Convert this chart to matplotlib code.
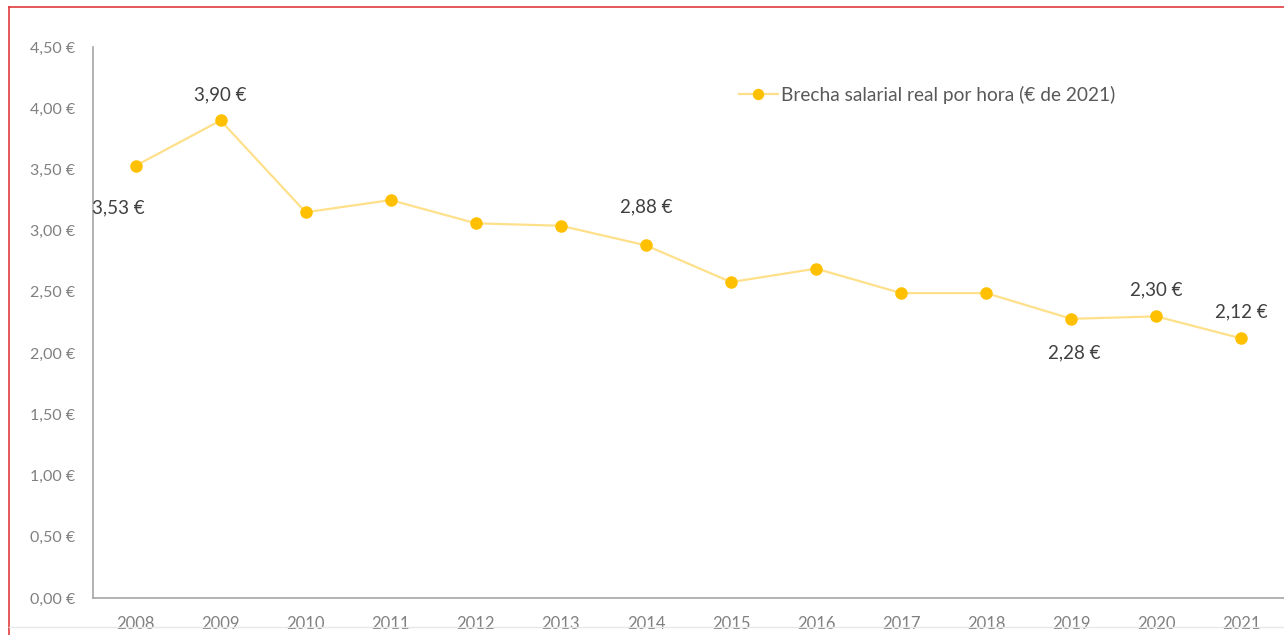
import matplotlib
matplotlib.use('Agg')
import matplotlib.pyplot as plt
from matplotlib.lines import Line2D
from matplotlib.ticker import FuncFormatter

# datos (lectura del gráfico)
years = ['2008', '2009', '2010', '2011', '2012', '2013', '2014',
         '2015', '2016', '2017', '2018', '2019', '2020', '2021']
brecha = [3.53, 3.90, 3.15, 3.25, 3.06, 3.04, 2.88,
          2.58, 2.69, 2.49, 2.49, 2.28, 2.30, 2.12]
# etiquetas visibles: indice -> desplazamiento en pixeles
label_offsets = {0: (-17, -42), 1: (0, 26), 6: (0, 38),
                 11: (3, -34), 12: (0, 27), 13: (0, 27)}
serie_name = 'Brecha salarial real por hora (€ de 2021)'

plt.rcParams['font.family'] = ['Lato', 'DejaVu Sans']

fig = plt.figure(figsize=(12.84, 6.35), dpi=100)
ax = fig.add_axes([93/1284, 1 - 598/635, 1 - 93/1284, (598 - 47)/635])

x = list(range(len(years)))
ax.plot(x, brecha, color='#FFE08A', lw=1.6, marker='o', markersize=8,
        markerfacecolor='#FFC000', markeredgecolor='#FFC000',
        label=serie_name, zorder=3)

def euro(v, pos):
    return ('%.2f €' % v).replace('.', ',')

for i, (dx, dy) in label_offsets.items():
    ax.annotate(euro(brecha[i], 0), (x[i], brecha[i]), xytext=(dx, dy),
                textcoords='offset pixels', ha='center', va='center',
                fontsize=13.5, color='#404040')

ax.set_xlim(-0.5, len(years) - 0.5)
ax.set_ylim(0, 4.5)
ax.set_yticks([i * 0.5 for i in range(10)])
ax.yaxis.set_major_formatter(FuncFormatter(euro))
ax.set_xticks(x)
ax.set_xticklabels(years)
ax.tick_params(axis='both', length=0, colors='#808080')
ax.tick_params(axis='y', pad=13, labelsize=11.5)
ax.tick_params(axis='x', pad=13, labelsize=12)
for s in ['top', 'right']:
    ax.spines[s].set_visible(False)
for s in ['left', 'bottom']:
    ax.spines[s].set_color('#A6A6A6')
    ax.spines[s].set_linewidth(1.2)

ax.legend(loc='center left', bbox_to_anchor=(722/1284, 1 - 95/635),
          bbox_transform=fig.transFigure, frameon=False, fontsize=13.8,
          labelcolor='#595959', handlelength=2.0, handletextpad=0.2,
          markerscale=0.9)

# marco rojo y linea inferior
fig.add_artist(Line2D([9/1284, 1], [1 - 7/635, 1 - 7/635], color='#E03C3C', lw=1.2))
fig.add_artist(Line2D([9/1284, 9/1284], [0, 1 - 7/635], color='#E03C3C', lw=1.2))
fig.add_artist(Line2D([9/1284, 1], [1 - 627/635, 1 - 627/635], color='#E8E8E8', lw=1))

fig.savefig('out.png', dpi=100)
